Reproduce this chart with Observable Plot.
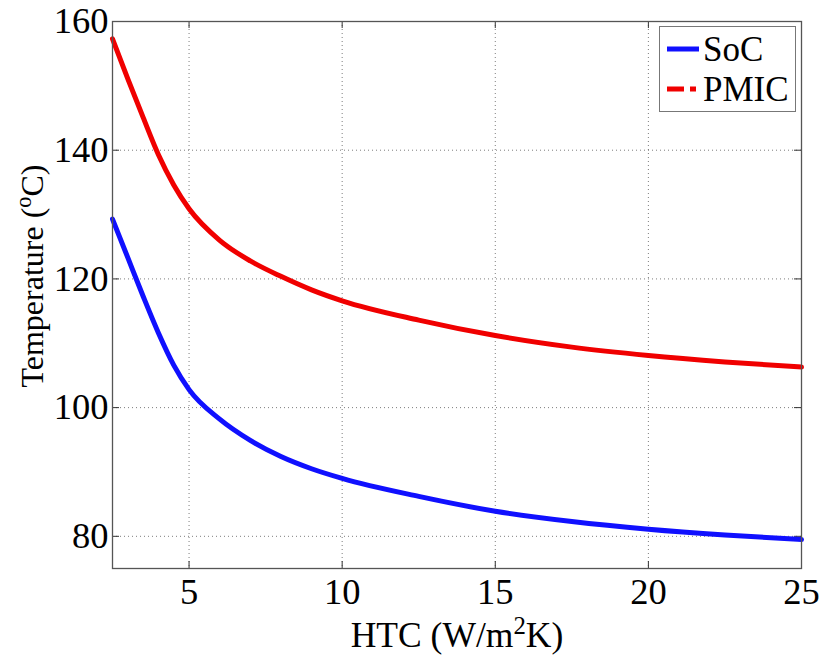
<!DOCTYPE html>
<html>
<head>
<meta charset="utf-8">
<script src="https://cdn.jsdelivr.net/npm/d3@7"></script>
<script src="https://cdn.jsdelivr.net/npm/@observablehq/plot@0.6"></script>
<style>
  html, body { margin: 0; padding: 0; background: #fff; }
  #chart svg { font-family: "Liberation Serif", "Times New Roman", serif; }
</style>
</head>
<body>
<div id="chart"></div>
<script>
// HTC values (W/m^2K)
const htc = [2.5, 3, 3.5, 4, 4.5, 5, 6, 7, 8, 9, 10, 12.5, 15, 17.5, 20, 22.5, 25];
// Temperatures (°C)
const socTemp  = [129.3, 123.3, 117.3, 111.6, 106.6, 102.8, 98.2, 94.9, 92.4, 90.5, 89.0, 86.2, 83.9, 82.3, 81.1, 80.2, 79.5];
const pmicTemp = [157.3, 151.1, 145.1, 139.3, 134.6, 130.9, 126.0, 122.8, 120.4, 118.3, 116.6, 113.6, 111.2, 109.4, 108.1, 107.1, 106.3];
const seriesNames = ["SoC", "PMIC"];
const seriesColors = ["#1010ff", "#f00000"];
const xTicks = [5, 10, 15, 20, 25];
const yTicks = [80, 100, 120, 140, 160];

const data = [];
htc.forEach((h, i) => {
  data.push({htc: h, temp: socTemp[i], series: seriesNames[0]});
  data.push({htc: h, temp: pmicTemp[i], series: seriesNames[1]});
});

const W = 821, H = 655;
const mL = 112, mR = 20, mT = 21, mB = 87;
const pw = W - mL - mR, ph = H - mT - mB;
const fs = 36.5;

const plot = Plot.plot({
  width: W, height: H,
  marginLeft: mL, marginRight: mR, marginTop: mT, marginBottom: mB,
  style: {fontFamily: '"Liberation Serif", "Times New Roman", serif', background: "#fff", overflow: "visible"},
  x: {domain: [2.5, 25], ticks: xTicks},
  y: {domain: [75, 160], ticks: yTicks},
  color: {domain: seriesNames, range: seriesColors},
  marks: [
    Plot.gridX(xTicks, {stroke: "#666", strokeOpacity: 0.85, strokeDasharray: "1,3", strokeWidth: 1}),
    Plot.gridY(yTicks, {stroke: "#666", strokeOpacity: 0.85, strokeDasharray: "1,3", strokeWidth: 1}),
    Plot.tickX(xTicks, {x: d => d, insetTop: ph - 7, stroke: "#333", strokeWidth: 1}),
    Plot.tickX(xTicks, {x: d => d, insetBottom: ph - 7, stroke: "#333", strokeWidth: 1}),
    Plot.tickY(yTicks, {y: d => d, insetRight: pw - 7, stroke: "#333", strokeWidth: 1}),
    Plot.tickY(yTicks, {y: d => d, insetLeft: pw - 7, stroke: "#333", strokeWidth: 1}),
    Plot.line(data, {x: "htc", y: "temp", stroke: "series", z: "series", strokeWidth: 5, curve: "monotone-x"}),
    Plot.frame({stroke: "#555", strokeWidth: 1.3}),
    Plot.axisX(xTicks, {tickSize: 0, tickPadding: 10, fontSize: fs, fill: "#000", label: null}),
    Plot.axisY(yTicks, {tickSize: 0, tickPadding: 4, fontSize: fs, fill: "#000", label: null})
  ]
});

document.getElementById("chart").appendChild(plot);

const svg = d3.select(plot);
// Axis titles with superscripts
const xfs = 35.5;
const xl = svg.append("text")
  .attr("x", 457).attr("y", 647)
  .attr("text-anchor", "middle")
  .attr("font-size", xfs).attr("fill", "#000");
xl.append("tspan").text("HTC (W/m");
xl.append("tspan").attr("font-size", xfs * 0.7).attr("dy", -13).text("2");
xl.append("tspan").attr("dy", 13).text("K)");

const yfs = 32;
const yl = svg.append("text")
  .attr("transform", "translate(43,276) rotate(-90)")
  .attr("text-anchor", "middle")
  .attr("font-size", yfs).attr("fill", "#000");
yl.append("tspan").text("Temperature (");
yl.append("tspan").attr("font-size", yfs * 0.7).attr("dy", -12).text("o");
yl.append("tspan").attr("dy", 12).text("C)");

// Legend
const lg = svg.append("g");
lg.append("rect").attr("x", 659.5).attr("y", 26.5).attr("width", 136).attr("height", 85)
  .attr("fill", "#fff").attr("stroke", "#777").attr("stroke-width", 1);
const dashes = [null, "17,6,6,6"];
seriesNames.forEach((name, i) => {
  const cy = 49 + i * 40;
  lg.append("line").attr("x1", 667).attr("x2", 699).attr("y1", cy).attr("y2", cy)
    .attr("stroke", seriesColors[i]).attr("stroke-width", 5)
    .attr("stroke-dasharray", dashes[i]);
  lg.append("text").attr("x", 703).attr("y", cy + 12).attr("font-size", 35)
    .attr("text-anchor", "start")
    .attr("fill", "#000").text(name);
});
</script>
</body>
</html>
